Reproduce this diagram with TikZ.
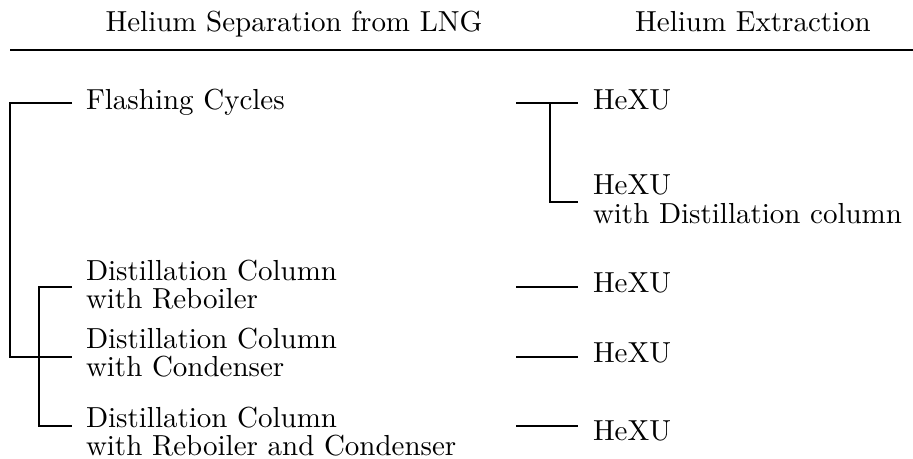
\documentclass[tikz,border=0pt]{standalone}
\usetikzlibrary{calc}
\begin{document}
\begin{tikzpicture}[x=0.345pt, y=-0.345pt,
  label text/.style={inner sep=0pt, outer sep=0pt, align=left,
    font=\fontsize{10pt}{9.8pt}\selectfont},
  conn/.style={line width=0.6pt},
  headrule/.style={line width=0.7pt}]
\useasboundingbox (0,0) rectangle (913,459);

% column headings and rule
\node[label text, anchor=base] (hsep) at (294,32) {Helium Separation from LNG};
\node[label text, anchor=base] (hext) at (753,32) {Helium Extraction};
\coordinate (ruleL) at (10,50);
\coordinate (ruleR) at (913,50);
\draw[headrule] (ruleL) -- (ruleR);

% separation methods
\node[label text, anchor=base west] (fc) at (86,110) {Flashing Cycles};
\node[label text, anchor=north west] (dr) at (86,260) {Distillation Column\\with Reboiler};
\node[label text, anchor=north west] (dc) at (86,328) {Distillation Column\\with Condenser};
\node[label text, anchor=north west] (drc) at (86,407) {Distillation Column\\with Reboiler and Condenser};

% extraction units
\node[label text, anchor=base west] (x1) at (593,110) {HeXU};
\node[label text, anchor=north west] (x2) at (593,175) {HeXU\\with Distillation column};
\node[label text, anchor=base west] (x3) at (593,293) {HeXU};
\node[label text, anchor=base west] (x4) at (593,363) {HeXU};
\node[label text, anchor=base west] (x5) at (593,441) {HeXU};

% tree junctions
\coordinate (ra) at (10,103);
\coordinate (rb) at (10,357);
\coordinate (sa) at (39,287);
\coordinate (sb) at (39,426);
\coordinate (ta) at (550,103);
\coordinate (tb) at (550,202);
\coordinate (u1) at (516,103);
\coordinate (u3) at (516,287);
\coordinate (u4) at (516,357);
\coordinate (u5) at (516,426);

% left tree
\draw[conn] ($(fc.west |- ra)+(-14,0)$) -- (ra) -- (rb) -- ($(dc.west |- rb)+(-14,0)$);
\draw[conn] ($(dr.west |- sa)+(-14,0)$) -- (sa) -- (sb) -- ($(drc.west |- sb)+(-14,0)$);

% right links
\draw[conn] (u1) -- ($(x1.west |- u1)+(-15,0)$);
\draw[conn] (ta) -- (tb) -- ($(x2.west |- tb)+(-15,0)$);
\draw[conn] (u3) -- ($(x3.west |- u3)+(-15,0)$);
\draw[conn] (u4) -- ($(x4.west |- u4)+(-15,0)$);
\draw[conn] (u5) -- ($(x5.west |- u5)+(-15,0)$);
\end{tikzpicture}
\end{document}
